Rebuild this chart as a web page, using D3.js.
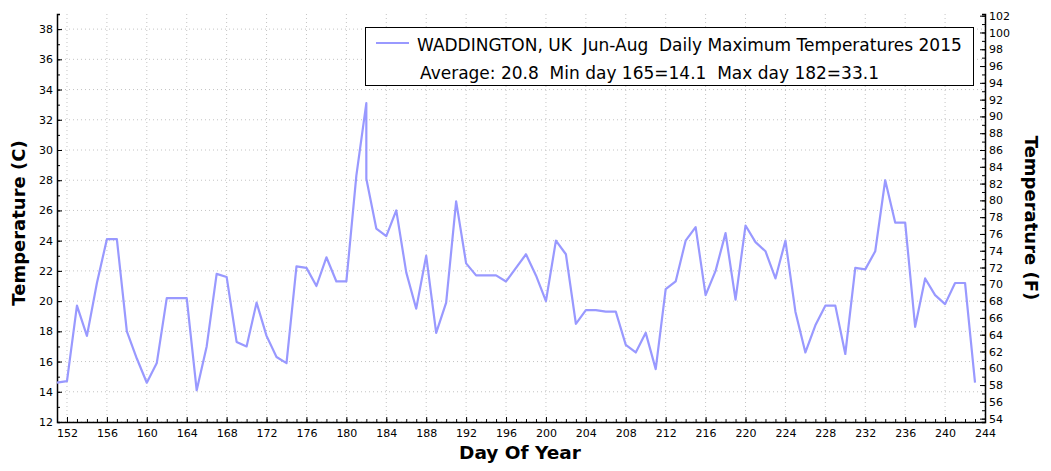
<!DOCTYPE html>
<html>
<head>
<meta charset="utf-8">
<script src="https://cdn.jsdelivr.net/npm/d3@7"></script>
<style>
  body { margin: 0; background: #fff; }
  svg { display: block; }
  text { font-family: "DejaVu Sans", Verdana, sans-serif; fill: #000; }
  .tick text { font-size: 11px; }
  .grid line { stroke: #c4c4c4; stroke-dasharray: 1,3; }
  .title { font-weight: bold; }
</style>
</head>
<body>
<svg id="chart"></svg>
<script>
// Chart data
var days = [151,152,153,154,155,156,157,158,159,160,161,162,163,164,165,166,167,168,169,170,
            171,172,173,174,175,176,177,178,179,180,181,182,182,183,184,185,186,187,188,189,190,
            191,192,193,194,195,196,197,198,199,200,201,202,203,204,205,206,207,208,209,210,
            211,212,213,214,215,216,217,218,219,220,221,222,223,224,225,226,227,228,229,230,
            231,232,233,234,235,236,237,238,239,240,241,242,243];
var temps = [14.6,14.7,19.7,17.7,21.2,24.1,24.1,18.0,16.2,14.6,15.9,20.2,20.2,20.2,14.1,17.0,21.8,21.6,17.3,17.0,
             19.9,17.7,16.3,15.9,22.3,22.2,21.0,22.9,21.3,21.3,28.3,33.1,28.1,24.8,24.3,26.0,21.9,19.5,23.0,17.9,19.9,
             26.6,22.5,21.7,21.7,21.7,21.3,22.2,23.1,21.7,20.0,24.0,23.1,18.5,19.4,19.4,19.3,19.3,17.1,16.6,17.9,
             15.5,20.8,21.3,24.0,24.9,20.4,22.0,24.5,20.1,25.0,23.9,23.3,21.5,24.0,19.3,16.6,18.4,19.7,19.7,16.5,
             22.2,22.1,23.3,28.0,25.2,25.2,18.3,21.5,20.4,19.8,21.2,21.2,14.6];
var seriesLabel = "WADDINGTON, UK  Jun-Aug  Daily Maximum Temperatures 2015";
var statsLabel = "Average: 20.8  Min day 165=14.1  Max day 182=33.1";
var xTicks = d3.range(152, 245, 4);
var yTicksC = d3.range(12, 39, 2);
var yTicksF = d3.range(54, 103, 2);

// SVG size params
var width = 1051;
var height = 471;
var plotLeft = 57, plotRight = 985, plotTop = 14, plotBottom = 422;

var svg = d3.select("#chart")
            .attr("width", width)
            .attr("height", height);

// Scales (F axis mirrors the C axis)
var x = d3.scaleLinear().domain([151, 244]).range([plotLeft, plotRight]);
var y = d3.scaleLinear().domain([12, 39]).range([plotBottom, plotTop]);
var yF = d3.scaleLinear().domain([12 * 1.8 + 32, 39 * 1.8 + 32]).range([plotBottom, plotTop]);

// Gridlines
var grid = svg.append("g").attr("class", "grid");
grid.selectAll(".gx")
    .data(xTicks)
  .enter().append("line")
    .attr("x1", d => x(d)).attr("x2", d => x(d))
    .attr("y1", plotTop).attr("y2", plotBottom);
grid.selectAll(".gy")
    .data(yTicksC)
  .enter().append("line")
    .attr("x1", plotLeft).attr("x2", plotRight)
    .attr("y1", d => y(d)).attr("y2", d => y(d));

// Minor ticks (every day, every degree)
function minor(g, axis) {
  g.call(axis.tickFormat("").tickSize(3));
  g.select(".domain").remove();
}
svg.append("g")
    .attr("transform", "translate(0," + plotBottom + ")")
    .call(minor, d3.axisTop(x).tickValues(d3.range(151, 245, 1)));
svg.append("g")
    .attr("transform", "translate(" + plotLeft + ",0)")
    .call(minor, d3.axisRight(y).tickValues(d3.range(12, 40, 1)));
svg.append("g")
    .attr("transform", "translate(" + plotRight + ",0)")
    .call(minor, d3.axisLeft(yF).tickValues(d3.range(54, 103, 1)));

// Major axes
var xAxis = svg.append("g")
    .attr("transform", "translate(0," + plotBottom + ")")
    .call(d3.axisTop(x).tickValues(xTicks).tickSizeInner(5).tickSizeOuter(0));
xAxis.selectAll(".tick text").attr("y", 7).attr("dy", "0.71em");

var yAxis = svg.append("g")
    .attr("transform", "translate(" + plotLeft + ",0)")
    .call(d3.axisRight(y).tickValues(yTicksC).tickSizeInner(5).tickSizeOuter(3));
yAxis.selectAll(".tick text").attr("x", -4).attr("text-anchor", "end");

var fAxis = svg.append("g")
    .attr("transform", "translate(" + plotRight + ",0)")
    .call(d3.axisLeft(yF).tickValues(yTicksF).tickSizeInner(5).tickSizeOuter(3));
fAxis.selectAll(".tick text").attr("x", 4).attr("text-anchor", "start");

svg.selectAll(".domain").attr("stroke", "#000").attr("stroke-width", 1.5);
svg.selectAll(".tick line").attr("stroke", "#000");

// Temperature line
var line = d3.line()
    .x((d, i) => x(days[i]))
    .y(d => y(d));
svg.append("path")
    .datum(temps)
    .attr("fill", "none")
    .attr("stroke", "#9999ff")
    .attr("stroke-width", 2.2)
    .attr("stroke-linejoin", "round")
    .attr("d", line);

// Axis titles
svg.append("text")
    .attr("class", "title")
    .attr("transform", "translate(25,223) rotate(-90)")
    .attr("text-anchor", "middle")
    .style("font-size", "18px")
    .text("Temperature (C)");
svg.append("text")
    .attr("class", "title")
    .attr("transform", "translate(1025,218) rotate(90)")
    .attr("text-anchor", "middle")
    .style("font-size", "18px")
    .text("Temperature (F)");
svg.append("text")
    .attr("class", "title")
    .attr("x", 520)
    .attr("y", 459)
    .attr("text-anchor", "middle")
    .style("font-size", "18.5px")
    .text("Day Of Year");

// Legend box
var legend = svg.append("g");
legend.append("rect")
    .attr("x", 365.5).attr("y", 27.5)
    .attr("width", 608).attr("height", 58)
    .attr("fill", "#fff")
    .attr("stroke", "#000");
legend.append("line")
    .attr("x1", 376).attr("x2", 409)
    .attr("y1", 43).attr("y2", 43)
    .attr("stroke", "#9999ff")
    .attr("stroke-width", 2);
legend.append("text")
    .attr("x", 417).attr("y", 51)
    .style("font-size", "17px")
    .style("white-space", "pre")
    .text(seriesLabel);
legend.append("text")
    .attr("x", 420).attr("y", 79)
    .style("font-size", "17px")
    .style("white-space", "pre")
    .text(statsLabel);
</script>
</body>
</html>
